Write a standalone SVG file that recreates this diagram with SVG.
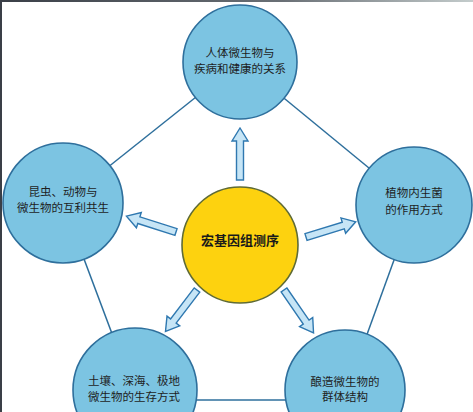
<svg xmlns="http://www.w3.org/2000/svg" xmlns:xlink="http://www.w3.org/1999/xlink" width="473" height="412" viewBox="0 0 473 412">
<style>
.node{fill:#7cc4e2;stroke:#2e6f9c;stroke-width:1.6}
.core{fill:#fdd20f;stroke:#5f6b35;stroke-width:1.6}
.edge{stroke:#2e6f9c;stroke-width:1.5;fill:none}
.arrow{fill:#c6e5f6;stroke:#2f78b0;stroke-width:1.4;stroke-linejoin:miter}
.t{font-family:"Noto Sans CJK SC","Noto Sans",sans-serif;font-size:11.5px;fill:#1e1e1e;text-anchor:middle}
.tc{font-family:"Noto Sans CJK SC","Noto Sans",sans-serif;font-size:13px;font-weight:bold;fill:#1a1a1a;text-anchor:middle}
</style>
<defs>
<path id="arr" d="M0,-3.5 L39,-3.5 L39,-8 L52,0 L39,8 L39,3.5 L0,3.5 Z"/>
<linearGradient id="topline" x1="0" x2="1" y1="0" y2="0">
<stop offset="0" stop-color="#3a3f47"/>
<stop offset="0.6" stop-color="#6a7076"/>
<stop offset="1" stop-color="#c4cccc"/>
</linearGradient>
</defs>
<rect width="473" height="412" fill="#ffffff"/>
<rect x="0" y="0" width="473" height="2" fill="url(#topline)"/>
<rect x="0" y="0" width="2" height="412" fill="#3a3f47"/>
<g id="connectors">
<line class="edge" x1="240" y1="62" x2="63" y2="203"/>
<line class="edge" x1="240" y1="62" x2="414" y2="205"/>
<line class="edge" x1="63" y1="203" x2="135" y2="395"/>
<line class="edge" x1="414" y1="205" x2="345" y2="395"/>
<line class="edge" x1="135" y1="400" x2="345" y2="400"/>
<use class="arrow" xlink:href="#arr" href="#arr" transform="translate(240,180) rotate(-90)"/>
<use class="arrow" xlink:href="#arr" href="#arr" transform="translate(176,232) rotate(-162.3)"/>
<use class="arrow" xlink:href="#arr" href="#arr" transform="translate(306,237) rotate(-17)"/>
<use class="arrow" xlink:href="#arr" href="#arr" transform="translate(197,290) rotate(127.3)"/>
<use class="arrow" xlink:href="#arr" href="#arr" transform="translate(284,290) rotate(55.4)"/>
</g>
<g id="node-top">
<circle class="node" cx="240" cy="62" r="57"/>
<text class="t" x="240" y="57">人体微生物与</text>
<text class="t" x="240" y="73">疾病和健康的关系</text>
</g>
<g id="node-left">
<circle class="node" cx="63" cy="203" r="60"/>
<text class="t" x="63" y="196">昆虫、动物与</text>
<text class="t" x="63" y="212">微生物的互利共生</text>
</g>
<g id="node-right">
<circle class="node" cx="414" cy="205" r="58"/>
<text class="t" x="414" y="197">植物内生菌</text>
<text class="t" x="414" y="214">的作用方式</text>
</g>
<g id="node-bottom-left">
<circle class="node" cx="135" cy="390" r="62"/>
<text class="t" x="134" y="385">土壤、深海、极地</text>
<text class="t" x="134" y="401">微生物的生存方式</text>
</g>
<g id="node-bottom-right">
<circle class="node" cx="345" cy="390" r="60"/>
<text class="t" x="345" y="386">酿造微生物的</text>
<text class="t" x="345" y="401">群体结构</text>
</g>
<g id="node-center">
<circle class="core" cx="240" cy="245" r="58"/>
<text class="tc" x="240" y="245">宏基因组测序</text>
</g>
</svg>
